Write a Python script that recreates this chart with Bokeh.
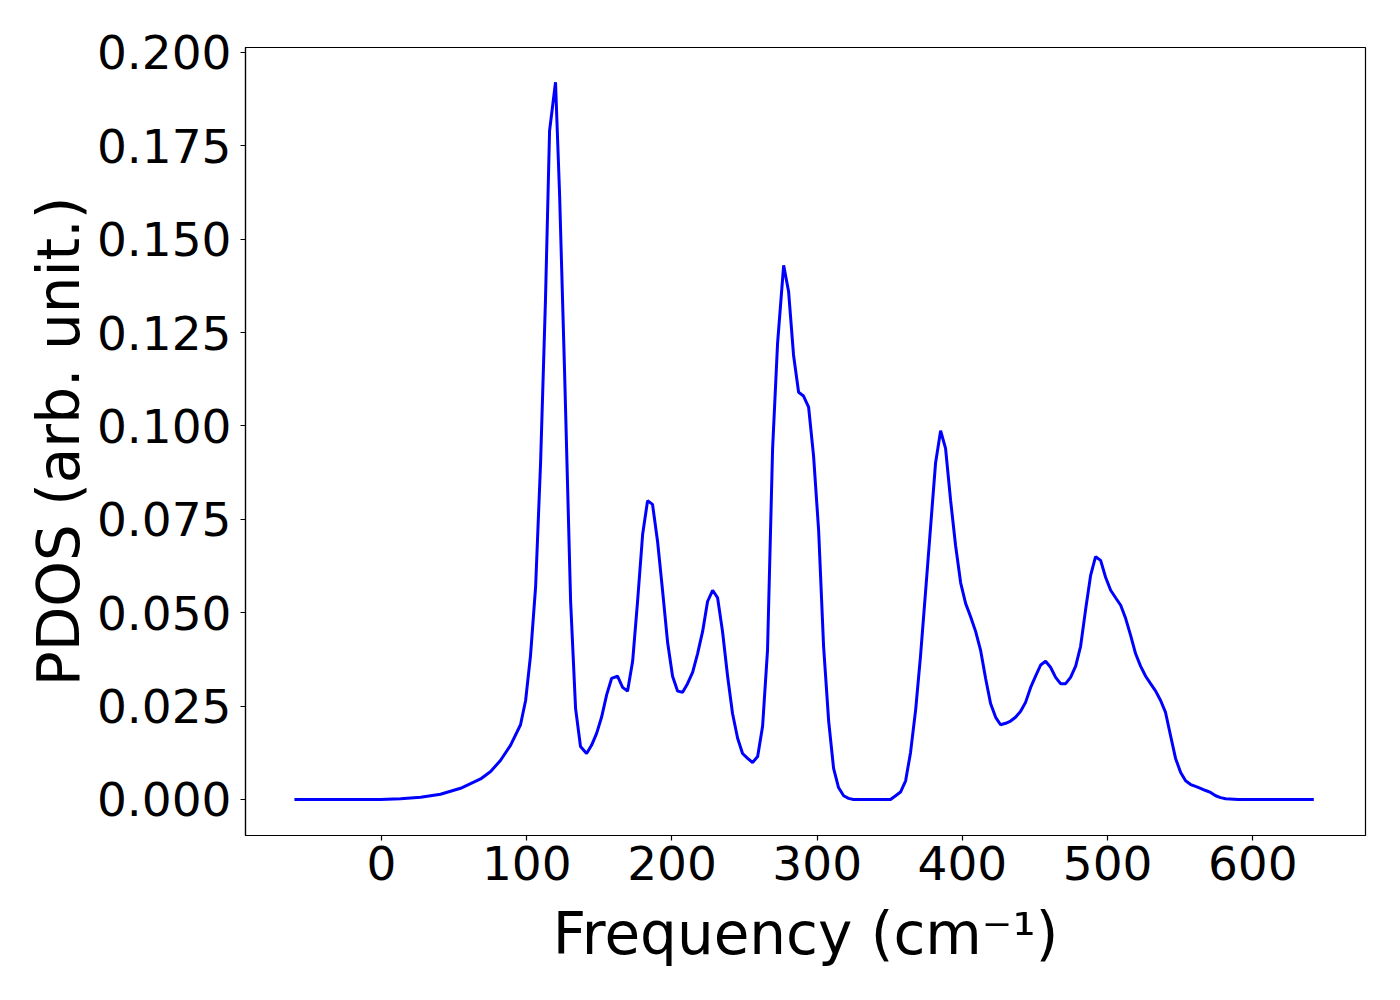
from bokeh.plotting import figure
from bokeh.models import Range1d, FixedTicker, NumeralTickFormatter, SingleIntervalTicker, ColumnDataSource
from bokeh.embed import file_html
from bokeh.resources import INLINE

freq = [-60, -0.7, 13.1, 26.9, 40.6, 54.4, 68.2, 75.1, 82.0, 88.8, 95.7, 99.2, 102.6, 106.1,
        109.5, 112.9, 115.7, 119.8, 122.6, 126.0, 130.2, 133.6, 137.0, 141.2, 144.6, 148.1,
        151.5, 155.0, 158.4, 162.5, 166.0, 169.4, 172.9, 176.3, 179.8, 183.2, 186.6, 190.1,
        193.5, 197.0, 200.4, 203.9, 207.3, 210.7, 214.2, 217.6, 221.1, 224.5, 228.0, 231.4,
        234.8, 238.3, 241.7, 245.2, 248.6, 252.1, 255.5, 259.0, 262.4, 265.8, 269.3, 272.7,
        276.9, 280.3, 283.7, 287.2, 290.6, 294.1, 297.5, 301.0, 304.4, 307.9, 311.3, 314.7,
        318.2, 321.6, 325.0, 350.5, 354.0, 357.4, 360.9, 364.3, 367.8, 371.2, 374.7, 378.1,
        381.5, 385.0, 388.4, 391.9, 395.3, 398.8, 402.2, 405.6, 409.1, 412.5, 416.0, 419.4,
        422.9, 426.3, 429.8, 433.2, 436.6, 440.1, 443.5, 447.0, 450.4, 453.9, 457.3, 460.7,
        464.2, 467.6, 471.1, 474.5, 478.0, 481.4, 484.8, 488.3, 491.7, 495.2, 498.6, 502.1,
        505.5, 509.0, 512.4, 515.8, 519.3, 522.7, 526.2, 529.6, 533.1, 536.5, 539.9, 543.4,
        546.8, 550.3, 553.7, 557.2, 560.6, 564.0, 567.5, 570.9, 574.4, 577.8, 581.3, 590.0,
        642.0]
pdos = [0.0, 0.0, 0.0002, 0.0006, 0.0014, 0.003, 0.0055, 0.0075, 0.0105, 0.0145, 0.02, 0.0265,
        0.0386, 0.057, 0.09, 0.134, 0.179, 0.192, 0.162, 0.115, 0.053, 0.0244, 0.0142, 0.0123,
        0.0145, 0.0177, 0.022, 0.028, 0.0324, 0.033, 0.030, 0.029, 0.037, 0.053, 0.071, 0.080,
        0.079, 0.069, 0.056, 0.042, 0.033, 0.029, 0.0287, 0.031, 0.034, 0.039, 0.045, 0.053,
        0.056, 0.054, 0.045, 0.033, 0.023, 0.0164, 0.0123, 0.011, 0.0099, 0.0115, 0.0196,
        0.040, 0.094, 0.122, 0.143, 0.136, 0.119, 0.109, 0.108, 0.105, 0.092, 0.072, 0.041,
        0.021, 0.0083, 0.0032, 0.001, 0.0003, 0.0, 0.0, 0.001, 0.002, 0.005, 0.0126, 0.024,
        0.0386, 0.056, 0.073, 0.090, 0.0987, 0.094, 0.080, 0.068, 0.058, 0.0525, 0.049, 0.045,
        0.040, 0.0324, 0.0257, 0.022, 0.020, 0.0204, 0.021, 0.022, 0.0236, 0.026, 0.030, 0.033,
        0.036, 0.037, 0.0354, 0.0327, 0.031, 0.031, 0.0327, 0.0357, 0.041, 0.0507, 0.060,
        0.065, 0.064, 0.0595, 0.056, 0.054, 0.052, 0.0485, 0.044, 0.039, 0.0357, 0.033, 0.031,
        0.029, 0.0265, 0.0233, 0.017, 0.011, 0.0072, 0.005, 0.004, 0.0035, 0.003, 0.0024,
        0.0019, 0.001, 0.0005, 0.0002, 0.0, 0.0]

x_ticks = [0, 100, 200, 300, 400, 500, 600]
x_label = "Frequency (cm⁻¹)"
y_label = "PDOS (arb. unit.)"

src = ColumnDataSource(data=dict(x=freq, y=pdos))

p = figure(width=1393, height=990, output_backend="svg", toolbar_location=None,
           x_range=Range1d(-93.7, 677.6), y_range=Range1d(-0.00964, 0.2013),
           min_border_left=245, min_border_right=28, min_border_top=47, min_border_bottom=155)
p.line("x", "y", source=src, line_color="#0000ff", line_width=3)

p.xgrid.visible = False
p.ygrid.visible = False
p.outline_line_color = "black"
p.outline_line_alpha = 1.0
p.outline_line_width = 1.2
p.background_fill_color = "white"
p.border_fill_color = "white"

p.xaxis.ticker = FixedTicker(ticks=x_ticks)
p.yaxis.ticker = SingleIntervalTicker(interval=0.025)
p.yaxis.formatter = NumeralTickFormatter(format="0.000")
for ax in (p.xaxis[0], p.yaxis[0]):
    ax.major_label_text_font = "DejaVu Sans"
    ax.major_label_text_font_size = "47px"
    ax.major_label_text_color = "black"
    ax.axis_label_text_font = "DejaVu Sans"
    ax.axis_label_text_font_size = "58px"
    ax.axis_label_text_font_style = "normal"
    ax.axis_label_text_color = "black"
    ax.minor_tick_line_color = None
    ax.major_tick_out = 5
    ax.major_tick_in = 0
    ax.major_tick_line_width = 1.2
    ax.axis_line_width = 1.2
    ax.axis_line_color = "black"
    ax.major_tick_line_color = "black"
p.xaxis.axis_label = x_label
p.yaxis.axis_label = y_label
p.xaxis.major_label_standoff = 5
p.yaxis.major_label_standoff = 9
p.xaxis.axis_label_standoff = 17
p.yaxis.axis_label_standoff = 1

open("out.html", "w").write(file_html(p, INLINE))
